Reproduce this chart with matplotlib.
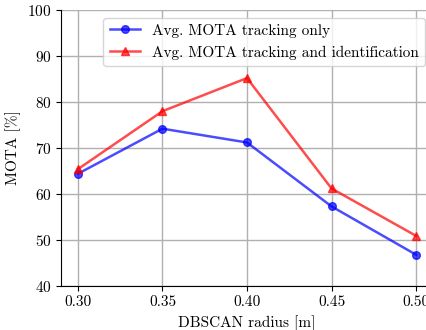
import matplotlib
matplotlib.use("Agg")
import matplotlib.pyplot as plt

# DBSCAN radius vs MOTA
radius = [0.30, 0.35, 0.40, 0.45, 0.50]
mota_tracking = [64.4, 74.2, 71.2, 57.3, 46.8]
mota_tracking_id = [65.4, 78.0, 85.2, 61.2, 50.9]

plt.rcParams['font.family'] = 'serif'
plt.rcParams['font.serif'] = ['cmr10']
plt.rcParams['mathtext.fontset'] = 'cm'
plt.rcParams['axes.formatter.use_mathtext'] = True
plt.rcParams['font.size'] = 11

fig = plt.figure(figsize=(4.27, 3.30), dpi=100)
# axes run past the right edge, like the cropped original
ax = fig.add_axes([61 / 427, 44 / 330, (433 - 61) / 427, (286 - 10) / 330])

ax.plot(radius, mota_tracking, color='b', alpha=0.7, marker='o', markersize=5.5,
        linewidth=1.8, label='Avg. MOTA tracking only')
ax.plot(radius, mota_tracking_id, color='r', alpha=0.7, marker='^', markersize=5.5,
        linewidth=1.8, label='Avg. MOTA tracking and identification')

ax.set_xlim(0.29, 0.51)
ax.set_ylim(40, 100)
ax.set_xticks(radius)
ax.set_xticklabels(['%.2f' % r for r in radius])
ax.set_yticks([40, 50, 60, 70, 80, 90, 100])
ax.grid(True, color='#b0b0b0', linewidth=1)
ax.spines['top'].set_visible(False)
ax.spines['right'].set_visible(False)

ax.set_xlabel('DBSCAN radius [m]')
ax.set_ylabel('MOTA [%]')
ax.legend(loc='upper right')

fig.savefig('out.png', dpi=100)
